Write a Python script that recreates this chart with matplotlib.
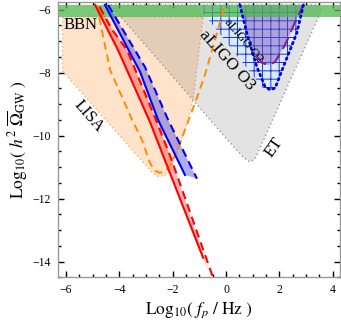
import matplotlib
matplotlib.use('Agg')
import matplotlib.pyplot as plt
from matplotlib.patches import Polygon
from matplotlib.ticker import MultipleLocator
import numpy as np

plt.rcParams['font.family'] = ['serif']
plt.rcParams['font.serif'] = ['Liberation Serif', 'DejaVu Serif']
plt.rcParams['mathtext.fontset'] = 'stix'
plt.rcParams['hatch.linewidth'] = 0.7
plt.rcParams['hatch.color'] = '#2233cc'

# ---------------- data (log10 f_p [Hz], log10 h^2 Omega) ----------------
bbn_band = [-6.22, -5.85]

lisa_x = [-6.13, -6.13, -2.77, -2.55, -2.29, -2.10, -1.80, -1.42, -1.24, -0.86]
lisa_y = [-6.23, -7.95, -11.17, -11.30, -11.27, -11.14, -10.45, -9.50, -8.87, -6.23]

et_x = [-4.33, -1.24, 0.15, 0.67, 0.90, 1.09, 3.45, 3.56, 3.49]
et_y = [-5.85, -8.87, -10.23, -10.71, -10.84, -10.74, -6.26, -6.01, -5.85]

o3_x = [-1.09, 1.35, 1.50, 1.65, 1.84, 2.15, 2.65, 2.90]
o3_y = [-5.85, -8.46, -8.52, -8.55, -8.49, -7.81, -6.75, -5.85]

ligo_x = [0.52, 0.78, 1.15, 1.46, 1.65, 1.84, 2.15, 2.65, 2.90]
ligo_y = [-5.85, -6.75, -7.81, -8.44, -8.55, -8.49, -7.81, -6.75, -5.85]

o2_edge_x = [0.52, 0.78]
o2_edge_y = [-5.85, -6.75]
o2_x = [1.15, 1.35, 1.59, 1.84, 2.21, 2.59, 2.84, 2.87]
o2_y = [-7.49, -7.69, -7.76, -7.66, -7.12, -6.39, -5.96, -5.85]

lisa_curve_x = [-4.85, -4.35, -3.52, -3.15, -2.85, -2.66, -2.47, -2.25, -2.02, -1.72, -1.16, -0.79, -0.04]
lisa_curve_y = [-5.85, -7.91, -9.50, -10.14, -10.87, -11.12, -11.18, -11.12, -10.84, -10.23, -8.96, -8.07, -5.85]

red_solid_x = [-4.91, -4.05, -2.85, -0.86]
red_solid_y = [-5.85, -7.28, -9.57, -13.88]
red_dash_x = [-4.74, -4.27, -3.71, -2.55, -2.04, -0.48]
red_dash_y = [-5.91, -6.64, -7.28, -9.66, -10.77, -14.53]
red_tip = [-0.62, -14.35]

blue_solid_x = [-4.54, -3.22, -2.55, -1.54]
blue_solid_y = [-5.85, -7.98, -9.50, -11.25]
blue_dash_x = [-4.42, -3.04, -2.17, -1.09]
blue_dash_y = [-5.85, -7.82, -9.50, -11.37]

labels = ['BBN', 'LISA', 'aLIGO O3', 'aLIGO O2', 'ET']
label_x = [-6.1, -5.14, 0.04, 0.67, 1.8]
label_y = [-6.49, -9.39, -7.61, -6.97, -10.37]
label_rot = [0, -49, -48, -50, 55]
label_size = [12, 12, 12.5, 9, 12]

x_ticks = [-6, -4, -2, 0, 2, 4]
y_ticks = [-14, -12, -10, -8, -6]

# ---------------- figure ----------------
fig = plt.figure(figsize=(3.41, 3.28), dpi=100)
ax = fig.add_axes([0.170, 0.1546, 0.827, 0.840])
ax.set_xlim(-6.3, 4.27)
ax.set_ylim(-14.5, -5.75)

# LISA region
ax.add_patch(Polygon(np.column_stack([lisa_x, lisa_y]), closed=True,
                     facecolor=(1.0, 0.62, 0.25, 0.27), edgecolor='none', zorder=1))
ax.add_patch(Polygon(np.column_stack([lisa_x, lisa_y]), closed=True, fill=False,
                     edgecolor='#f8b070', linestyle=(0, (1, 2)), lw=1.0, zorder=1.1))
# ET region
ax.add_patch(Polygon(np.column_stack([et_x, et_y]), closed=True,
                     facecolor=(0.45, 0.45, 0.45, 0.2), edgecolor='none', zorder=1.2))
ax.add_patch(Polygon(np.column_stack([et_x, et_y]), closed=True, fill=False,
                     edgecolor='#999999', linestyle=(0, (1, 2)), lw=1.0, zorder=1.3))
# aLIGO O3 region
ax.add_patch(Polygon(np.column_stack([o3_x, o3_y]), closed=True,
                     facecolor='#d8ebff', edgecolor='none', zorder=1.4))
ax.add_patch(Polygon(np.column_stack([o3_x, o3_y]), closed=True, fill=False,
                     hatch='++', edgecolor='#2233cc', lw=0, zorder=1.5))
# aLIGO O2 region
o2_px = o2_edge_x + o2_x
o2_py = o2_edge_y + o2_y
ax.add_patch(Polygon(np.column_stack([o2_px, o2_py]), closed=True,
                     facecolor=(0.45, 0.3, 0.7, 0.45), edgecolor='none', zorder=1.6))
ax.plot(o2_x, o2_y, color='#8b1a8b', lw=1.5, dashes=(6, 3), zorder=3)
ax.plot(ligo_x, ligo_y, color='#0000ee', lw=2.0, linestyle=(0, (0.6, 1.4)),
        dash_capstyle='round', zorder=3.1)

# BBN band
ax.axhspan(bbn_band[0], bbn_band[1], facecolor=(0.3, 0.72, 0.3, 0.75), edgecolor='none', zorder=2)

# red band
rpoly = np.column_stack([red_solid_x + [red_tip[0]] + red_dash_x[-2::-1],
                         red_solid_y + [red_tip[1]] + red_dash_y[-2::-1]])
ax.add_patch(Polygon(rpoly, closed=True, facecolor=(1, 0.15, 0.15, 0.35), edgecolor='none', zorder=2.5))
ax.plot(red_solid_x, red_solid_y, color='#ff0000', lw=1.5, zorder=3.2)
ax.plot(red_dash_x, red_dash_y, color='#ff0000', lw=1.5, dashes=(4, 2.5), zorder=3.2)

# blue band
bpoly = np.column_stack([blue_solid_x + blue_dash_x[::-1], blue_solid_y + blue_dash_y[::-1]])
ax.add_patch(Polygon(bpoly, closed=True, facecolor=(0.3, 0.3, 0.85, 0.45), edgecolor='none', zorder=2.6))
ax.plot(blue_solid_x, blue_solid_y, color='#0000ff', lw=1.5, zorder=3.3)
ax.plot(blue_dash_x, blue_dash_y, color='#0000ff', lw=1.5, dashes=(4, 2.5), zorder=3.3)

# LISA sensitivity curve
ax.plot(lisa_curve_x, lisa_curve_y, color='#ff8c00', lw=1.4, dashes=(4, 2.5), zorder=3.0)

# labels
for t, lx, ly, r, s in zip(labels, label_x, label_y, label_rot, label_size):
    ax.text(lx, ly, t, rotation=r, fontsize=s, ha='left' if t == 'BBN' else 'center',
            va='center', rotation_mode='anchor', zorder=4)

# axes styling
for sp in ax.spines.values():
    sp.set_color('#999999')
    sp.set_linewidth(1.0)
ax.set_xticks(x_ticks)
ax.set_yticks(y_ticks)
ax.set_xticklabels([f'{v:d}'.replace('-', '\u2212') for v in x_ticks])
ax.set_yticklabels([f'{v:d}'.replace('-', '\u2212') for v in y_ticks])
ax.xaxis.set_minor_locator(MultipleLocator(0.5))
ax.yaxis.set_minor_locator(MultipleLocator(0.5))
ax.tick_params(which='both', direction='in', top=True, right=True, color='black')
ax.tick_params(which='major', length=4.5, width=1.0, labelsize=8.5, pad=5)
ax.tick_params(which='minor', length=2.5, width=1.0)

ax.set_xlabel(r'$\mathrm{Log}_{10}(\ f_p\ /\ \mathrm{Hz}\ )$', fontsize=12.5, labelpad=3)
ax.set_ylabel(r'$\mathrm{Log}_{10}(\ h^2\ \overline{\Omega}_{\mathrm{GW}}\ )$', fontsize=12.5, labelpad=2)

fig.savefig('out.png', dpi=100)
